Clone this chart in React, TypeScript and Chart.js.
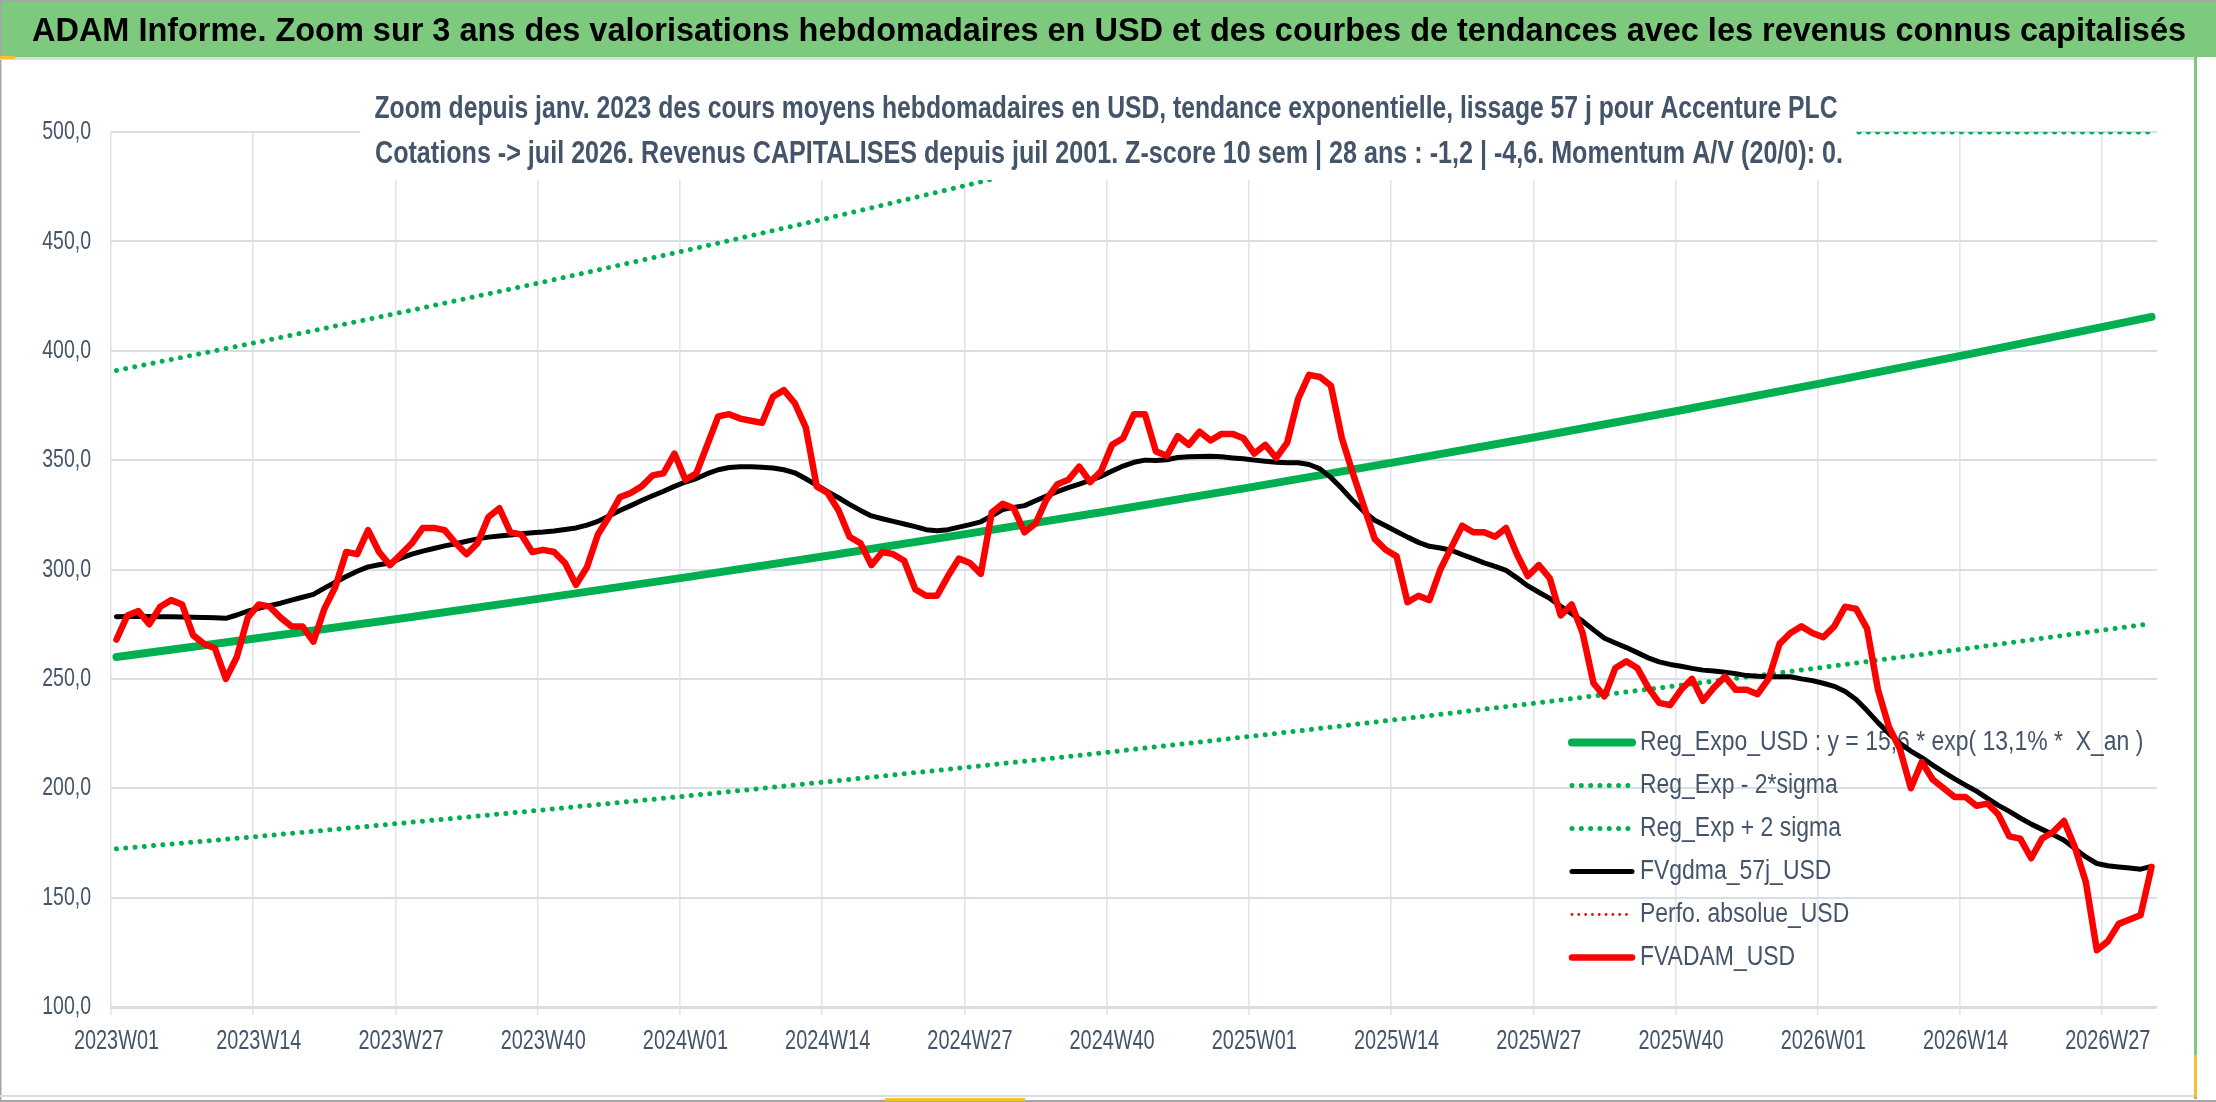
import { useEffect, useRef } from "react";
import { Chart, registerables } from "chart.js";

Chart.register(...registerables);

// ISO weeks shown on the category axis: 2023W01 -> 2026W31
const weekCounts: [number, number][] = [
  [2023, 52],
  [2024, 52],
  [2025, 52],
  [2026, 31],
];
const weeks = weekCounts.flatMap(([year, n]) =>
  Array.from({ length: n }, (_, k) => `${year}W${String(k + 1).padStart(2, "0")}`)
);

const xTickLabels = [
  "2023W01", "2023W14", "2023W27", "2023W40",
  "2024W01", "2024W14", "2024W27", "2024W40",
  "2025W01", "2025W14", "2025W27", "2025W40",
  "2026W01", "2026W14", "2026W27",
];

// weekly average valuation (red)
const fvadamUsd = [
  268, 279, 281, 275, 283, 286, 284, 270, 266, 264,
  250, 260, 278, 284, 283, 278, 274, 274, 267, 282,
  292, 308, 307, 318, 308, 302, 307, 312, 319, 319,
  318, 312, 307, 312, 324, 328, 317, 316, 308, 309,
  308, 303, 293, 301, 316, 324, 333, 335, 338, 343,
  344, 353, 341, 344, 357, 370, 371, 369, 368, 367,
  379, 382, 376, 365, 338, 335, 327, 315, 312, 302,
  308, 307, 304, 291, 288, 288, 297, 305, 303, 298,
  326, 330, 328, 317, 321, 332, 339, 341, 347, 340,
  345, 357, 360, 371, 371, 354, 352, 361, 357, 363,
  359, 362, 362, 360, 353, 357, 351, 358, 378, 389,
  388, 384, 360, 344, 329, 314, 309, 306, 285, 288,
  286, 300, 310, 320, 317, 317, 315, 319, 307, 297,
  302, 296, 279, 284, 271, 248, 242, 255, 258, 255,
  246, 239, 238, 245, 250, 240, 246, 251, 245, 245,
  243, 250, 266, 271, 274, 271, 269, 274, 283, 282,
  273, 245, 228, 218, 200, 212, 204, 200, 196, 196,
  192, 193, 188, 178, 177, 168, 177, 180, 185, 173,
  157, 126, 130, 138, 140, 142, 164,
];

// 57-day smoothing (black)
const fvgdma57jUsd = [
  278.4, 278.5, 278.5, 278.5, 278.4, 278.4, 278.3, 278.2, 278.1, 277.9,
  277.7, 279.2, 281.0, 282.3, 283.5, 284.6, 286.0, 287.3, 288.6, 291.5,
  294.2, 296.8, 299.2, 301.2, 302.2, 303.0, 305.2, 307.0, 308.4, 309.6,
  310.8, 311.8, 312.9, 314.0, 314.8, 315.3, 315.8, 316.3, 316.8, 317.1,
  317.6, 318.3, 319.0, 320.3, 322.0, 324.5, 327.0, 329.2, 331.5, 333.7,
  335.8, 338.0, 340.0, 341.6, 343.8, 345.6, 346.6, 347.0, 347.0, 346.7,
  346.4, 345.6, 344.2, 341.5, 338.6, 335.6, 332.8, 329.8, 327.0, 324.5,
  323.2, 322.0, 320.8, 319.6, 318.2, 317.7, 318.2, 319.4, 320.5, 321.8,
  324.5, 327.4, 328.4, 329.2, 331.4, 333.6, 335.6, 337.4, 339.0, 340.8,
  342.6, 345.0, 347.3, 349.0, 350.0, 349.8, 350.2, 351.2, 351.5, 351.7,
  351.8, 351.5, 351.0, 350.6, 350.0, 349.5, 349.0, 348.8, 348.8, 348.0,
  346.0, 342.0, 337.0, 331.5, 326.5, 322.5, 320.0, 317.4, 314.8, 312.4,
  310.6, 309.8, 308.8, 306.8, 305.0, 303.0, 301.4, 299.6, 296.2, 292.5,
  289.6, 286.8, 283.2, 279.8, 276.4, 272.4, 268.6, 266.4, 264.3, 262.0,
  259.6, 257.8, 256.6, 255.8, 254.8, 254.0, 253.6, 253.0, 252.4, 251.5,
  251.2, 251.0, 251.0, 251.0, 250.0, 249.2, 248.0, 246.6, 244.2, 240.6,
  235.5, 230.0, 225.0, 220.5, 217.0, 214.0, 210.6, 207.4, 204.3, 201.4,
  198.7, 195.4, 192.2, 189.4, 186.4, 183.6, 181.2, 178.8, 176.2, 172.4,
  168.6, 165.6, 164.6, 164.0, 163.5, 163.0, 164.3,
];

// trend curves, read at the labelled weeks
const trendWeeks = [...xTickLabels, "2026W31"];
const regExpoUsd = [260.0, 268.7, 277.6, 286.9, 296.4, 306.3, 316.5, 327.0, 337.9, 349.2, 360.8, 372.8, 385.3, 398.1, 411.4, 415.5];
const regMinus2Sigma = [172.3, 178.0, 184.0, 190.1, 196.4, 203.0, 209.7, 216.7, 223.9, 231.4, 239.1, 247.1, 255.3, 263.8, 272.6, 275.3];
const upperWeeks = ["2023W01", "2023W14", "2023W27", "2023W40", "2024W01", "2024W14", "2024W27", "2024W40", "2024W46", "2024W47", "2026W31"];
const regPlus2Sigma = [391.0, 404.0, 417.5, 431.4, 445.8, 460.6, 476.0, 491.8, 499.2, 500, 500];
const perfoAbsolueUsd: number[] = [];

const bannerText =
  "ADAM Informe. Zoom sur 3 ans des valorisations hebdomadaires en USD et des courbes de tendances avec les revenus connus capitalisés";
const titleLines = [
  "Zoom depuis janv. 2023 des cours moyens hebdomadaires en USD, tendance exponentielle, lissage 57 j pour Accenture PLC",
  "Cotations -> juil 2026. Revenus CAPITALISES depuis juil 2001. Z-score 10 sem | 28 ans : -1,2 | -4,6. Momentum A/V (20/0): 0.",
];

const FONT = '"Liberation Sans", "DejaVu Sans", sans-serif';
const SLATE = "#44546A";
const GREEN = "#00B050";
const RED = "#FF0000";

const toPoints = (keys: string[], vals: number[]) => keys.map((k, i) => ({ x: k, y: vals[i] }));

function squash(ctx: CanvasRenderingContext2D, text: string, x: number, y: number, sx: number, align: string) {
  const w = ctx.measureText(text).width * sx;
  const left = align === "left" ? x : align === "center" ? x - w / 2 : x - w;
  ctx.save();
  ctx.textAlign = "left";
  ctx.textBaseline = "middle";
  ctx.translate(left, y);
  ctx.scale(sx, 1);
  ctx.fillText(text, 0, 0);
  ctx.restore();
}

function fitWidth(ctx: CanvasRenderingContext2D, text: string, x: number, y: number, width: number, align: string) {
  const sx = width / ctx.measureText(text).width;
  squash(ctx, text, x, y, sx, align);
}

const decor = {
  id: "decor",
  beforeDraw(chart: any) {
    const { ctx, width, height } = chart;
    ctx.save();
    ctx.fillStyle = "#FFFFFF";
    ctx.fillRect(0, 0, width, height);
    ctx.fillStyle = "#7DC97E";
    ctx.fillRect(0, 0, width, 57);
    ctx.fillStyle = "#A6A6A6";
    ctx.fillRect(0, 0, width, 1.5);
    ctx.fillRect(0, 0, 1.5, height);
    ctx.fillRect(0, height - 2, width, 2);
    ctx.fillStyle = "#DADDE2";
    ctx.fillRect(0, 57, 2195, 3);
    ctx.fillRect(0, height - 7, 2195, 2);
    ctx.fillStyle = "#7DC97E";
    ctx.fillRect(2194, 57, 3, height - 60);
    ctx.fillStyle = "#F2C230";
    ctx.fillRect(0, 56, 15, 3);
    ctx.fillRect(2194, 1055, 3, 42);
    ctx.fillRect(885, height - 4, 140, 3);
    ctx.fillStyle = "#000000";
    ctx.font = `bold 34px ${FONT}`;
    fitWidth(ctx, bannerText, 32, 32, 2154, "left");
    ctx.restore();
  },
  beforeDatasetsDraw(chart: any) {
    const { ctx } = chart;
    ctx.save();
    chart.data.datasets.forEach((ds: any, k: number) => {
      const y = 742.5 + k * 43;
      ctx.beginPath();
      ctx.strokeStyle = ds.borderColor;
      ctx.lineWidth = ds.borderWidth;
      ctx.lineCap = ds.borderCapStyle || "butt";
      ctx.setLineDash(ds.borderDash || []);
      ctx.moveTo(1572, y);
      ctx.lineTo(1632, y);
      ctx.stroke();
      ctx.setLineDash([]);
      ctx.fillStyle = SLATE;
      ctx.font = `27px ${FONT}`;
      squash(ctx, ds.label, 1640, y, 0.85, "left");
    });
    ctx.restore();
  },
  afterDatasetsDraw(chart: any) {
    const { ctx } = chart;
    ctx.save();
    ctx.fillStyle = "#FFFFFF";
    ctx.fillRect(360, 86, 1496, 94);
    ctx.fillStyle = SLATE;
    ctx.font = `bold 32px ${FONT}`;
    fitWidth(ctx, titleLines[0], 1106, 109, 1463, "center");
    fitWidth(ctx, titleLines[1], 1109, 154, 1468, "center");
    ctx.restore();
  },
  afterDraw(chart: any) {
    const { ctx } = chart;
    const xs = chart.scales.x;
    const ys = chart.scales.y;
    ctx.save();
    ctx.fillStyle = SLATE;
    ctx.font = `28px ${FONT}`;
    weeks.forEach((w, i) => {
      if (xTickLabels.includes(w)) squash(ctx, w, xs.getPixelForTick(i), 1041, 0.71, "center");
    });
    ctx.font = `26px ${FONT}`;
    ys.ticks.forEach((t: any) => {
      const txt = t.value.toFixed(1).replace(".", ",");
      squash(ctx, txt, 91, ys.getPixelForValue(t.value), 0.75, "right");
    });
    ctx.restore();
  },
};

const App = () => {
  const canvasRef = useRef<HTMLCanvasElement>(null);
  const chartRef = useRef<Chart | null>(null);

  useEffect(() => {
    if (!canvasRef.current) return;
    const dotted = { borderWidth: 5, borderDash: [0.01, 9.3], borderCapStyle: "round" as const };
    chartRef.current = new Chart(canvasRef.current, {
      type: "line",
      data: {
        labels: weeks,
        datasets: [
          {
            label: "Reg_Expo_USD : y = 15,6 * exp( 13,1% *  X_an )",
            data: toPoints(trendWeeks, regExpoUsd) as any,
            borderColor: GREEN,
            borderWidth: 8,
            borderCapStyle: "round",
            order: 5,
          },
          {
            label: "Reg_Exp - 2*sigma",
            data: toPoints(trendWeeks, regMinus2Sigma) as any,
            borderColor: GREEN,
            ...dotted,
            order: 4,
          },
          {
            label: "Reg_Exp + 2 sigma",
            data: toPoints(upperWeeks, regPlus2Sigma) as any,
            borderColor: GREEN,
            ...dotted,
            order: 3,
          },
          {
            label: "FVgdma_57j_USD",
            data: fvgdma57jUsd,
            borderColor: "#000000",
            borderWidth: 5,
            borderCapStyle: "round",
            order: 2,
          },
          {
            label: "Perfo. absolue_USD",
            data: perfoAbsolueUsd,
            borderColor: RED,
            borderWidth: 2.8,
            borderDash: [0.01, 6.8],
            borderCapStyle: "round",
            order: 1,
          },
          {
            label: "FVADAM_USD",
            data: fvadamUsd,
            borderColor: RED,
            borderWidth: 6.5,
            borderCapStyle: "round",
            order: 0,
          },
        ],
      },
      options: {
        animation: false,
        responsive: true,
        maintainAspectRatio: false,
        layout: { autoPadding: false, padding: { left: 111, right: 59, top: 132, bottom: 87 } },
        elements: {
          point: { radius: 0, hoverRadius: 0 },
          line: { tension: 0, borderJoinStyle: "round", fill: false },
        },
        plugins: {
          legend: { display: false },
          title: { display: false },
          tooltip: { enabled: false },
        },
        events: [],
        scales: {
          x: {
            type: "category",
            offset: true,
            border: { display: false },
            ticks: { display: false, autoSkip: false },
            grid: {
              offset: true,
              drawTicks: true,
              tickLength: 8,
              lineWidth: 1.6,
              color: (c: any) =>
                c.index !== undefined && xTickLabels.includes(weeks[c.index]) ? "#E1E4EA" : "rgba(0,0,0,0)",
            },
          },
          y: {
            min: 100,
            max: 500,
            border: { display: false },
            ticks: { display: false, stepSize: 50 },
            grid: {
              drawTicks: false,
              color: "#D9DDE4",
              lineWidth: (c: any) => (c.tick && c.tick.value === 100 ? 3 : 2),
            },
          },
        },
      },
      plugins: [decor],
    });
    return () => {
      chartRef.current?.destroy();
      chartRef.current = null;
    };
  }, []);

  return (
    <div style={{ position: "absolute", left: 0, top: 0, width: 2216, height: 1102 }}>
      <canvas ref={canvasRef} />
    </div>
  );
};

export default App;
